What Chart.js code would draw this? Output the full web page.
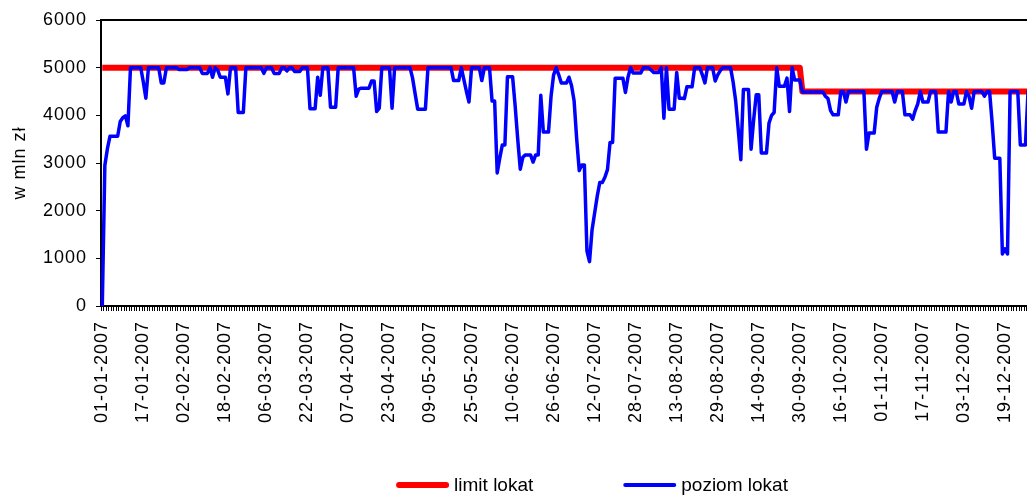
<!DOCTYPE html>
<html>
<head>
<meta charset="utf-8">
<script src="https://cdn.jsdelivr.net/npm/chart.js@4/dist/chart.umd.min.js"></script>
<style>
  html, body { margin: 0; padding: 0; overflow: hidden; background: #ffffff; }
  #wrap { width: 1050px; height: 497px; }
</style>
</head>
<body>
<div id="wrap"><canvas id="chart" width="1050" height="497"></canvas></div>
<script>
// Daily deposit level in 2007 (mln zł), one row per month
const poziomLokat = [
  // styczeń
  0, 2950, 3300, 3560, 3560, 3560, 3560, 3870, 3950, 3990, 3780, 5000, 5000, 5000, 5000, 5000,
  4700, 4360, 5000, 5000, 5000, 5000, 5000, 4680, 4680, 5000, 5000, 5000, 5000, 5000, 4960,
  // luty
  4960, 4960, 4960, 5000, 5000, 5000, 5000, 5000, 4880, 4880, 4880, 5000, 4800, 5000, 4950,
  4800, 4800, 4800, 4450, 5000, 5000, 5000, 4060, 4060, 4060, 5000, 5000, 5000,
  // marzec
  5000, 5000, 5000, 5000, 4880, 5000, 5000, 5000, 4880, 4880, 4880, 5000, 5000, 4930, 5000,
  5000, 4920, 4920, 4920, 5000, 5000, 5000, 4140, 4140, 4140, 4800, 4420, 5000, 5000, 5000, 4170,
  // kwiecień
  4170, 4170, 5000, 5000, 5000, 5000, 5000, 5000, 5000, 4400, 4550, 4570, 4570, 4570, 4570,
  4720, 4720, 4080, 4150, 5000, 5000, 5000, 5000, 4150, 5000, 5000, 5000, 5000, 5000, 5000,
  // maj
  5000, 4780, 4450, 4130, 4130, 4130, 4130, 5000, 5000, 5000, 5000, 5000, 5000, 5000, 5000,
  5000, 5000, 4730, 4730, 4730, 5000, 4750, 4500, 4280, 5000, 5000, 5000, 5000, 4730, 5000, 5000,
  // czerwiec
  5000, 4300, 4300, 2790, 3100, 3380, 3380, 4810, 4810, 4810, 4200, 3500, 2870, 3120, 3170,
  3170, 3170, 3020, 3170, 3170, 4420, 3650, 3650, 3650, 4400, 4850, 5000, 4850, 4680, 4680,
  // lipiec
  4680, 4800, 4620, 4300, 3500, 2840, 2960, 2960, 1150, 930, 1600, 1950, 2300, 2590, 2590,
  2700, 2860, 3430, 3430, 4780, 4780, 4780, 4780, 4480, 4800, 5000, 4890, 4890, 4890, 4890, 5000,
  // sierpień
  5000, 5000, 4950, 4900, 4900, 4900, 5000, 3940, 5000, 4130, 4130, 4130, 4900, 4360, 4360,
  4350, 4600, 4600, 4600, 5000, 5000, 5000, 4850, 4680, 5000, 5000, 5000, 4720, 4850, 4940, 5000,
  // wrzesień
  5000, 5000, 5000, 4700, 4300, 3700, 3070, 4540, 4540, 4540, 3290, 3900, 4430, 4430, 3210,
  3210, 3210, 3840, 4000, 4060, 5000, 4610, 4610, 4610, 4780, 4080, 5000, 4740, 4740, 4740,
  // październik
  4490, 4490, 4490, 4490, 4490, 4490, 4490, 4490, 4490, 4400, 4350, 4100, 4010, 4010, 4010,
  4500, 4500, 4280, 4500, 4500, 4500, 4500, 4500, 4500, 4500, 3290, 3630, 3630, 3630, 4170, 4360,
  // listopad
  4500, 4500, 4500, 4500, 4500, 4280, 4500, 4500, 4500, 4010, 4010, 4010, 3920, 4100, 4240,
  4500, 4280, 4280, 4280, 4500, 4500, 4500, 3650, 3650, 3650, 3650, 4500, 4280, 4500, 4500,
  // grudzień
  4240, 4240, 4240, 4500, 4400, 4150, 4500, 4500, 4500, 4500, 4400, 4500, 4500, 3850, 3100,
  3100, 3100, 1090, 1200, 1090, 4500, 4500, 4500, 4500, 3380, 3380, 3380, 4500, 4500, 4500, 4500
];

// Deposit limit: value in force from the given day onwards
const limitFrom = ['01-01-2007', '01-10-2007'];
const limitValues = [5000, 4500];

// Dates printed under the axis
const tickLabels = [
  '01-01-2007', '17-01-2007', '02-02-2007', '18-02-2007', '06-03-2007', '22-03-2007',
  '07-04-2007', '23-04-2007', '09-05-2007', '25-05-2007', '10-06-2007', '26-06-2007',
  '12-07-2007', '28-07-2007', '13-08-2007', '29-08-2007', '14-09-2007', '30-09-2007',
  '16-10-2007', '01-11-2007', '17-11-2007', '03-12-2007', '19-12-2007'
];

const seriesNames = ['limit lokat', 'poziom lokat'];
const seriesColors = ['#ff0000', '#0000ff'];

// Calendar days of 2007 as category labels (dd-mm-yyyy)
const categories = [];
for (let d = new Date(Date.UTC(2007, 0, 1)); d.getUTCFullYear() === 2007; d.setUTCDate(d.getUTCDate() + 1)) {
  const dd = String(d.getUTCDate()).padStart(2, '0');
  const mm = String(d.getUTCMonth() + 1).padStart(2, '0');
  categories.push(dd + '-' + mm + '-' + d.getUTCFullYear());
}

// Step series of the limit, one value per day
const limitLokat = [];
let step = 0;
categories.forEach((day) => {
  if (step + 1 < limitFrom.length && day === limitFrom[step + 1]) step++;
  limitLokat.push(limitValues[step]);
});

const shownTicks = new Set(tickLabels);
const FONT = "'Liberation Sans', Arial, sans-serif";

// Axis texts are set slightly wide
const axisTextSpacing = {
  id: 'axisTextSpacing',
  beforeDraw(chart) { chart.ctx.letterSpacing = '1px'; },
  beforeDatasetsDraw(chart) { chart.ctx.letterSpacing = '0px'; }
};

// Black frame line along the top of the plot area
const frameTop = {
  id: 'frameTop',
  beforeDatasetsDraw(chart) {
    const { ctx, chartArea } = chart;
    ctx.save();
    ctx.strokeStyle = '#000';
    ctx.lineWidth = 2;
    ctx.beginPath();
    ctx.moveTo(chartArea.left - 1, chartArea.top);
    ctx.lineTo(chartArea.right, chartArea.top);
    ctx.stroke();
    ctx.restore();
  }
};

// Legend row under the axis labels
const bottomLegend = {
  id: 'bottomLegend',
  afterDraw(chart, args, opts) {
    const { ctx } = chart;
    ctx.save();
    ctx.letterSpacing = '0px';
    ctx.font = opts.fontSize + 'px ' + FONT;
    const items = chart.data.datasets.map((ds) => ({
      text: ds.label, color: ds.borderColor, lw: ds.legendLineWidth,
      w: opts.lineLength + opts.textGap + ctx.measureText(ds.label).width
    }));
    const total = items.reduce((s, it) => s + it.w, 0) + opts.itemGap * (items.length - 1);
    let x = opts.centerX - total / 2;
    items.forEach((it) => {
      ctx.strokeStyle = it.color;
      ctx.lineWidth = it.lw;
      ctx.lineCap = 'round';
      ctx.beginPath();
      ctx.moveTo(x + it.lw / 2, opts.y);
      ctx.lineTo(x + opts.lineLength - it.lw / 2, opts.y);
      ctx.stroke();
      ctx.fillStyle = '#000';
      ctx.textBaseline = 'middle';
      ctx.textAlign = 'left';
      ctx.fillText(it.text, x + opts.lineLength + opts.textGap, opts.y + 1);
      x += it.w + opts.itemGap;
    });
    ctx.restore();
  }
};

new Chart(document.getElementById('chart'), {
  type: 'line',
  data: {
    labels: categories,
    datasets: [
      {
        label: seriesNames[0], data: limitLokat, borderColor: seriesColors[0],
        borderWidth: 6, legendLineWidth: 6, pointRadius: 0, tension: 0, order: 2,
        borderJoinStyle: 'round'
      },
      {
        label: seriesNames[1], data: poziomLokat, borderColor: seriesColors[1],
        borderWidth: 3.5, legendLineWidth: 4, pointRadius: 0, tension: 0, order: 1,
        borderJoinStyle: 'round'
      }
    ]
  },
  options: {
    responsive: false,
    animation: false,
    devicePixelRatio: 1,
    layout: { padding: { left: 0, right: 13, top: 20, bottom: 0 } },
    plugins: {
      legend: { display: false },
      tooltip: { enabled: false },
      bottomLegend: { fontSize: 19, lineLength: 53, textGap: 5, itemGap: 90, centerX: 592, y: 485 }
    },
    scales: {
      x: {
        offset: true,
        border: { color: '#000', width: 2 },
        grid: { drawOnChartArea: false, offset: true, tickLength: 5, color: '#000', lineWidth: 1 },
        ticks: {
          autoSkip: false, minRotation: 90, maxRotation: 90, padding: 10, color: '#000',
          font: { family: FONT, size: 18 },
          callback(value, index) { return shownTicks.has(categories[index]) ? categories[index] : ''; }
        },
        afterFit(scale) { scale.height = 191; scale.paddingLeft = 0; scale.paddingRight = 0; }
      },
      y: {
        min: 0, max: 6000,
        border: { color: '#000', width: 2 },
        grid: { drawOnChartArea: false, tickLength: 5, color: '#000' },
        ticks: {
          stepSize: 1000, padding: 9, color: '#000', font: { family: FONT, size: 18 },
          callback(value) { return String(value); }
        },
        title: {
          display: true, text: 'w mln zł', color: '#000',
          font: { family: FONT, size: 18 }, padding: { top: 9, bottom: 0 }
        },
        afterFit(scale) { scale.width = 101; scale.paddingTop = 0; scale.paddingBottom = 0; }
      }
    }
  },
  plugins: [axisTextSpacing, frameTop, bottomLegend]
});
</script>
</body>
</html>
